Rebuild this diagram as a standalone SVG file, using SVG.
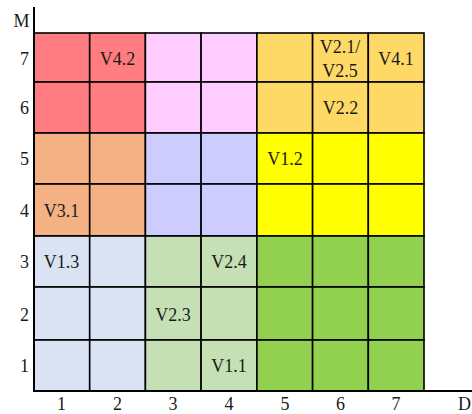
<svg xmlns="http://www.w3.org/2000/svg" width="472" height="414" viewBox="0 0 472 414">
<style>
.c{stroke:#000;stroke-width:1.6}
.t{font-family:"Liberation Serif","Times New Roman",serif;font-size:18px;fill:#1a1a1a;text-anchor:middle}
.red{fill:#FF7C80}.pink{fill:#FFCCFF}.gold{fill:#FFD966}.orange{fill:#F4B183}
.lav{fill:#CCCCFF}.yel{fill:#FFFF00}.blue{fill:#DAE3F3}.lg{fill:#C5E0B4}.gr{fill:#92D050}
</style>
<rect width="472" height="414" fill="#fff"/>
<g id="row7">
<rect class="c red" x="34" y="33" width="55.7" height="49"/>
<rect class="c red" x="89.7" y="33" width="55.7" height="49"/>
<rect class="c pink" x="145.4" y="33" width="55.7" height="49"/>
<rect class="c pink" x="201.1" y="33" width="55.8" height="49"/>
<rect class="c gold" x="256.9" y="33" width="55.7" height="49"/>
<rect class="c gold" x="312.6" y="33" width="55.7" height="49"/>
<rect class="c gold" x="368.3" y="33" width="55.7" height="49"/>
</g>
<g id="row6">
<rect class="c red" x="34" y="82" width="55.7" height="51"/>
<rect class="c red" x="89.7" y="82" width="55.7" height="51"/>
<rect class="c pink" x="145.4" y="82" width="55.7" height="51"/>
<rect class="c pink" x="201.1" y="82" width="55.8" height="51"/>
<rect class="c gold" x="256.9" y="82" width="55.7" height="51"/>
<rect class="c gold" x="312.6" y="82" width="55.7" height="51"/>
<rect class="c gold" x="368.3" y="82" width="55.7" height="51"/>
</g>
<g id="row5">
<rect class="c orange" x="34" y="133" width="55.7" height="51"/>
<rect class="c orange" x="89.7" y="133" width="55.7" height="51"/>
<rect class="c lav" x="145.4" y="133" width="55.7" height="51"/>
<rect class="c lav" x="201.1" y="133" width="55.8" height="51"/>
<rect class="c yel" x="256.9" y="133" width="55.7" height="51"/>
<rect class="c yel" x="312.6" y="133" width="55.7" height="51"/>
<rect class="c yel" x="368.3" y="133" width="55.7" height="51"/>
</g>
<g id="row4">
<rect class="c orange" x="34" y="184" width="55.7" height="52"/>
<rect class="c orange" x="89.7" y="184" width="55.7" height="52"/>
<rect class="c lav" x="145.4" y="184" width="55.7" height="52"/>
<rect class="c lav" x="201.1" y="184" width="55.8" height="52"/>
<rect class="c yel" x="256.9" y="184" width="55.7" height="52"/>
<rect class="c yel" x="312.6" y="184" width="55.7" height="52"/>
<rect class="c yel" x="368.3" y="184" width="55.7" height="52"/>
</g>
<g id="row3">
<rect class="c blue" x="34" y="236" width="55.7" height="51"/>
<rect class="c blue" x="89.7" y="236" width="55.7" height="51"/>
<rect class="c lg" x="145.4" y="236" width="55.7" height="51"/>
<rect class="c lg" x="201.1" y="236" width="55.8" height="51"/>
<rect class="c gr" x="256.9" y="236" width="55.7" height="51"/>
<rect class="c gr" x="312.6" y="236" width="55.7" height="51"/>
<rect class="c gr" x="368.3" y="236" width="55.7" height="51"/>
</g>
<g id="row2">
<rect class="c blue" x="34" y="287" width="55.7" height="53"/>
<rect class="c blue" x="89.7" y="287" width="55.7" height="53"/>
<rect class="c lg" x="145.4" y="287" width="55.7" height="53"/>
<rect class="c lg" x="201.1" y="287" width="55.8" height="53"/>
<rect class="c gr" x="256.9" y="287" width="55.7" height="53"/>
<rect class="c gr" x="312.6" y="287" width="55.7" height="53"/>
<rect class="c gr" x="368.3" y="287" width="55.7" height="53"/>
</g>
<g id="row1">
<rect class="c blue" x="34" y="340" width="55.7" height="51"/>
<rect class="c blue" x="89.7" y="340" width="55.7" height="51"/>
<rect class="c lg" x="145.4" y="340" width="55.7" height="51"/>
<rect class="c lg" x="201.1" y="340" width="55.8" height="51"/>
<rect class="c gr" x="256.9" y="340" width="55.7" height="51"/>
<rect class="c gr" x="312.6" y="340" width="55.7" height="51"/>
<rect class="c gr" x="368.3" y="340" width="55.7" height="51"/>
</g>
<g id="axes" stroke="#000" stroke-width="2" fill="none">
<line x1="34" y1="7" x2="34" y2="392"/>
<line x1="33" y1="391" x2="472" y2="391"/>
</g>
<g id="cell-labels" class="t">
<text x="117.5" y="65">V4.2</text>
<text x="340" y="53">V2.1/</text>
<text x="340" y="77">V2.5</text>
<text x="396" y="65">V4.1</text>
<text x="340.5" y="114">V2.2</text>
<text x="285" y="165">V1.2</text>
<text x="61.5" y="217">V3.1</text>
<text x="61.5" y="268">V1.3</text>
<text x="229" y="268">V2.4</text>
<text x="173" y="321">V2.3</text>
<text x="229" y="372">V1.1</text>
</g>
<g id="axis-labels" class="t">
<text x="21.5" y="27">M</text>
<text x="24.5" y="65">7</text>
<text x="24.5" y="114">6</text>
<text x="24.5" y="165">5</text>
<text x="24.5" y="217">4</text>
<text x="24.5" y="268">3</text>
<text x="24.5" y="321">2</text>
<text x="24.5" y="372">1</text>
<text x="61.5" y="410">1</text>
<text x="117.5" y="410">2</text>
<text x="173" y="410">3</text>
<text x="229" y="410">4</text>
<text x="285" y="410">5</text>
<text x="340.5" y="410">6</text>
<text x="396" y="410">7</text>
<text x="458" y="410" style="text-anchor:start">D</text>
</g>
</svg>
